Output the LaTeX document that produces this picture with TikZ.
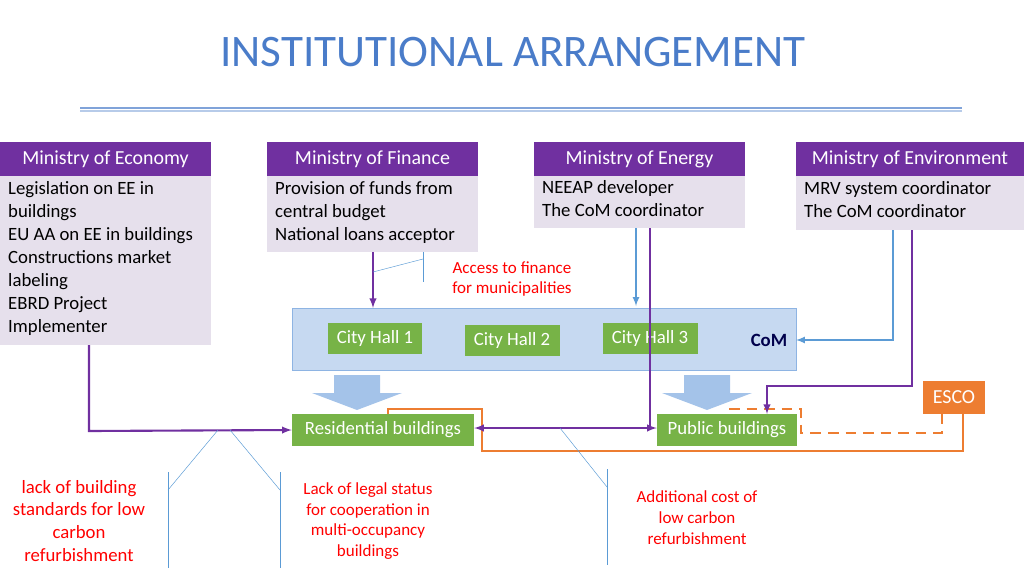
\documentclass[tikz,border=0pt]{standalone}
\usepackage{fontspec}
\setmainfont{Carlito}
\definecolor{minpurple}{HTML}{7030A0}
\definecolor{lavender}{HTML}{E6E0EC}
\definecolor{comblue}{HTML}{C6D9F1}
\definecolor{comedge}{HTML}{8EB4E3}
\definecolor{hallgreen}{HTML}{77B347}
\definecolor{escoorange}{HTML}{ED7D31}
\definecolor{lineblue}{HTML}{5B9BD5}
\definecolor{titleblue}{HTML}{4A7CC9}
\begin{document}
\begin{tikzpicture}[x=0.03cm,y=-0.03cm,
  head/.style={text=white,font=\fontsize{17}{20}\selectfont},
  body/.style={fill=lavender,font=\fontsize{16}{19.6}\selectfont,align=left},
  hall/.style={fill=hallgreen,text=white,font=\fontsize{16}{18}\selectfont,inner sep=0pt},
  note/.style={text=red,font=\fontsize{14.5}{17.8}\selectfont,align=center},
  link/.style={minpurple,line width=1.8pt,-latex},
  bluelink/.style={lineblue,line width=1.6pt,-latex},
  callout/.style={lineblue,line width=0.4pt}]
\useasboundingbox (0,0) rectangle (1024,576);

% titre
\node[text=titleblue,font=\fontsize{38.5}{42}\selectfont] (title) at (513,52) {INSTITUTIONAL ARRANGEMENT};
\draw[titleblue!70,line width=1.2pt] (80,108) -- (962,108);
\draw[titleblue!40,line width=1pt] (80,111) -- (962,111);

% les ministères
\fill[lavender] (0,176) rectangle (211,345);
\fill[lavender] (267,176) rectangle (478,252);
\fill[lavender] (534,176) rectangle (745,228);
\fill[lavender] (796,176) rectangle (1024,230);
\foreach \xa/\xb/\nom/\txt in {0/211/eco/Ministry of Economy,267/478/fin/Ministry of Finance,534/745/ene/Ministry of Energy,796/1024/env/Ministry of Environment}{
  \fill[minpurple] (\xa,142) rectangle (\xb,176);
  \node[head] (\nom) at ({(\xa+\xb)/2},159) {\txt};
}
\node[body,fill=none,anchor=north west,inner sep=0pt] (ecotxt) at (8,181) {Legislation on EE in\\buildings\\EU AA on EE in buildings\\Constructions market\\labeling\\EBRD Project\\Implementer};
\node[body,fill=none,anchor=north west,inner sep=0pt] (fintxt) at (275,181) {Provision of funds from\\central budget\\National loans acceptor};
\node[body,fill=none,anchor=north west,inner sep=0pt] (enetxt) at (542,180) {NEEAP developer\\The CoM coordinator};
\node[body,fill=none,anchor=north west,inner sep=0pt] (envtxt) at (804,181) {MRV system coordinator\\The CoM coordinator};

% CoM
\draw[comedge,fill=comblue] (292,308) rectangle (796,370);
\coordinate (comE) at (796,340);
\node[font=\bfseries\fontsize{16}{18}\selectfont,text=blue!30!black] (com) at (769,340) {CoM};
\node[hall,minimum width=2.82cm,minimum height=0.93cm] (ch1) at (375,338) {City Hall 1};
\node[hall,minimum width=2.85cm,minimum height=0.93cm] (ch2) at (512,340) {City Hall 2};
\node[hall,minimum width=2.85cm,minimum height=0.93cm] (ch3) at (650,338) {City Hall 3};

\foreach \xc in {357,707}{
  \fill[comedge!80] (\xc-23,375) -- (\xc+23,375) -- (\xc+23,393) -- (\xc+45,393) -- (\xc,410) -- (\xc-45,393) -- (\xc-23,393) -- cycle;
}

% bâtiments
\node[hall,minimum width=5.46cm,minimum height=0.96cm] (res) at (383,430) {Residential buildings};
\node[hall,minimum width=4.2cm,minimum height=0.96cm] (pub) at (727,430) {Public buildings};
\node[fill=escoorange,text=white,font=\fontsize{17}{20}\selectfont,minimum width=1.86cm,minimum height=0.99cm,inner sep=0pt] (esco) at (954,397) {ESCO};

% liaisons
\draw[escoorange,line width=1.5pt] (388,414) -- (388,409) -- (482,409) -- (482,451) -- (963,451) -- (963,413.5);
\draw[escoorange,line width=2.5pt,dash pattern=on 9pt off 6pt] (729,409) -- (801,409) -- (801,433) -- (942,433) -- (942,413.5);
\draw[link] (89,345) -- (89,431) -- (res.west);
\draw[link] (373,252) -- (373,308);
\draw[minpurple,line width=1.8pt] (650,228) -- (650,428);
\draw[link] (650,428) -- (res.east |- 0,428);
\draw[link] (650,428) -- (pub.west |- 0,428);
\draw[link] (912,230) -- (912,386) -- (767,386) -- (767,414);
\draw[bluelink] (636,228) -- (636,306);
\draw[bluelink] (893,230) -- (893,340) -- (comE);

% du texte
\node[note] (access) at (512,279) {Access to finance\\for municipalities};
\draw[callout] (373,272) -- (423,259);
\draw[callout] (423,252) -- (423,282);
\node[note,font=\fontsize{16}{19.6}\selectfont] (n1) at (79,521) {lack of building\\standards for low\\carbon\\refurbishment};
\node[note] (n2) at (368,521) {Lack of legal status\\for cooperation in\\multi-occupancy\\buildings};
\node[note] (n3) at (697,518) {Additional cost of\\low carbon\\refurbishment};
\draw[callout] (168,472) -- (168,568);
\draw[callout] (168,490) -- (218,430);
\draw[callout] (280,472) -- (280,568);
\draw[callout] (280,490) -- (230,430);
\draw[callout] (607,469) -- (607,565);
\draw[callout] (607,487) -- (560,428);
\end{tikzpicture}
\end{document}
